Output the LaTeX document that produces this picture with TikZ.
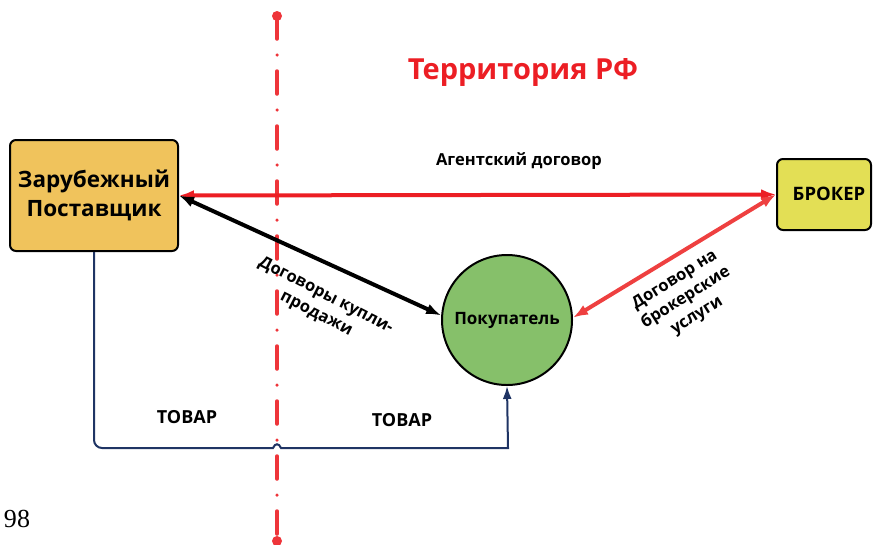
\documentclass[tikz,border=0pt]{standalone}
\usepackage{fontspec}
\setmainfont{Open Sans}
\newfontfamily\pagenumfont{Liberation Serif}
\usepackage{xcolor}
\usetikzlibrary{arrows.meta}

\definecolor{supfill}{RGB}{240,195,92}
\definecolor{brkfill}{RGB}{227,223,85}
\definecolor{buyfill}{RGB}{134,192,106}
\definecolor{rfred}{RGB}{236,30,36}
\definecolor{brkred}{RGB}{238,64,64}
\definecolor{goodsblue}{RGB}{31,52,100}

\tikzset{
  party/.style={draw=black, line width=2pt, rounded corners=6pt, font=\bfseries, align=center},
  deal/.style={font=\bfseries, align=center},
  contract/.style={line width=4pt, {Latex[length=15pt,width=11pt]}-{Latex[length=15pt,width=11pt]}}
}

\begin{document}
\begin{tikzpicture}[x=1pt,y=-1pt]
    \useasboundingbox (0,0) rectangle (874,544);

    % border line
    \draw[rfred!90, line width=3.5pt, line cap=round,
          dash pattern=on 23pt off 16pt on 0pt off 16pt] (277,16) -- (277,541);
    \fill[rfred!90] (277,16) circle (5) (277,541) circle (5);

    \node[text=rfred, font=\fontsize{29}{33}\selectfont\bfseries] (title) at (523,72) {Территория РФ};

    \node[party, fill=supfill, minimum width=168pt, minimum height=111pt,
          font=\fontsize{22.5}{29}\selectfont\bfseries] (sup) at (94,195.5) {Зарубежный\\Поставщик};
    \node[party, fill=brkfill, minimum width=94pt, minimum height=71pt] (brk) at (824,194.5) {};
    \node[font=\fontsize{18.5}{22}\selectfont\bfseries] (brktext) at (829,194) {БРОКЕР};
    \node[party, circle, fill=buyfill, minimum size=130pt,
          font=\fontsize{17}{20}\selectfont\bfseries] (buy) at (507,320) {Покупатель};

    % contracts
    \draw[rfred, contract] (sup.east) -- (brk.west);
    \node[deal, font=\fontsize{16.5}{20}\selectfont\bfseries] (agent) at (519,161) {Агентский договор};

    \draw[black, contract] (sup.east) -- (buy.176);
    \node[deal, rotate=-27, font=\fontsize{16.5}{21}\selectfont\bfseries] (sale) at (321,305) {Договоры купли-\\продажи};

    \draw[brkred, contract] (brk.west) -- (buy.2);
    \node[deal, rotate=32, font=\fontsize{16.5}{21}\selectfont\bfseries] (brkdeal) at (686,298) {Договор на\\брокерские\\услуги};

    % goods
    \draw[goodsblue, line width=2pt, -{Latex[length=13pt,width=9pt]}]
        (sup.south) [rounded corners=8pt] -- (94,448) [sharp corners] -- (273,448)
        .. controls (275,443) and (279,443) .. (281,448) -- (508,448) -- (buy.south);
    \node[deal, font=\fontsize{18}{22}\selectfont\bfseries] (goods1) at (187,417) {ТОВАР};
    \node[deal, font=\fontsize{18}{22}\selectfont\bfseries] (goods2) at (402,420) {ТОВАР};

    \node[font=\fontsize{26}{30}\selectfont\pagenumfont] (page) at (17,519) {98};
\end{tikzpicture}
\end{document}
